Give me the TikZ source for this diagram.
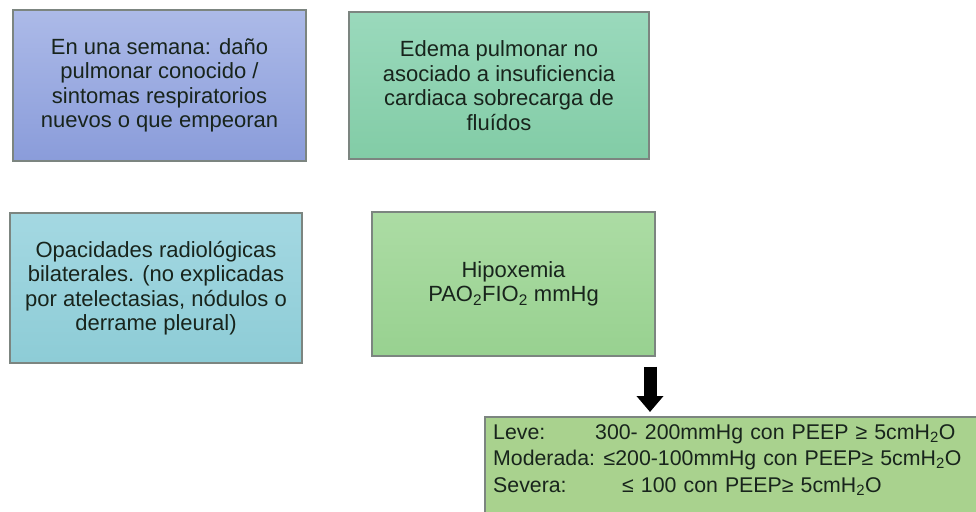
\documentclass[tikz,border=0pt]{standalone}
\usepackage{fontspec}
\setmainfont{Liberation Sans}
\usepackage{tikz}
\usetikzlibrary{arrows.meta}
\usetikzlibrary{calc,positioning}

\definecolor{azulA}{HTML}{ACBAE8}
\definecolor{azulB}{HTML}{8A9CDA}
\definecolor{tealA}{HTML}{9AD9BC}
\definecolor{tealB}{HTML}{82CCA6}
\definecolor{cianA}{HTML}{A4D8E2}
\definecolor{cianB}{HTML}{8DCCD6}
\definecolor{verdeA}{HTML}{ACDCA4}
\definecolor{verdeB}{HTML}{98D190}
\definecolor{nivel}{HTML}{A9D28E}
\definecolor{borde}{HTML}{7C8580}
\definecolor{texto}{HTML}{18241C}

\begin{document}
\begin{tikzpicture}[x=1pt,y=-1pt,
    caja/.style={draw=borde,line width=1.2pt,align=center,text=texto,
      font=\fontsize{22}{24.5}\selectfont,inner sep=0pt},
    flecha/.style={line width=13pt,-{Triangle[width=26pt,length=16pt]}}]

    \useasboundingbox (0,0) rectangle (976,511);

    \node[caja,top color=azulA,bottom color=azulB,minimum width=293pt,minimum height=151pt]
        (semana) at (159.5,85.5) {En una semana: daño\\pulmonar conocido /\\sintomas respiratorios\\nuevos o que empeoran};
    \node[caja,top color=tealA,bottom color=tealB,minimum width=300pt,minimum height=147pt]
        (edema) at (499,85.5) {Edema pulmonar no\\asociado a insuficiencia\\cardiaca sobrecarga de\\fluídos};
    \node[caja,top color=cianA,bottom color=cianB,minimum width=292pt,minimum height=150pt]
        (opacidad) at (156,288) {Opacidades radiológicas\\bilaterales. (no explicadas\\por atelectasias, nódulos o\\derrame pleural)};
    \node[caja,top color=verdeA,bottom color=verdeB,minimum width=283pt,minimum height=144pt]
        (hipoxemia) at (513.5,284) {Hipoxemia\\PAO\textsubscript{2}FIO\textsubscript{2} mmHg};

    % caja de niveles, cortada por el borde de la figura
    \path[draw=borde,line width=1.2pt,fill=nivel] (485,417) rectangle (985,520);
    \node[anchor=north west,text=texto,align=left,text width=476pt,
        font=\fontsize{21.3}{26.5}\selectfont,inner xsep=8pt,inner ysep=7pt]
        (niveles) at (485,417) {%
        \makebox[102pt][l]{Leve:}300- 200mmHg con PEEP ≥ 5cmH\textsubscript{2}O\\
        Moderada:\hspace{-2pt} ≤200-100mmHg con PEEP≥ 5cmH\textsubscript{2}O\\
        \makebox[129pt][l]{Severa:}≤ 100 con PEEP≥ 5cmH\textsubscript{2}O};

    \coordinate (eje) at (650,0);
    \draw[flecha] (hipoxemia.south -| eje) ++(0,10) -- ($(niveles.north -| eje)+(0,-5)$);

\end{tikzpicture}
\end{document}
